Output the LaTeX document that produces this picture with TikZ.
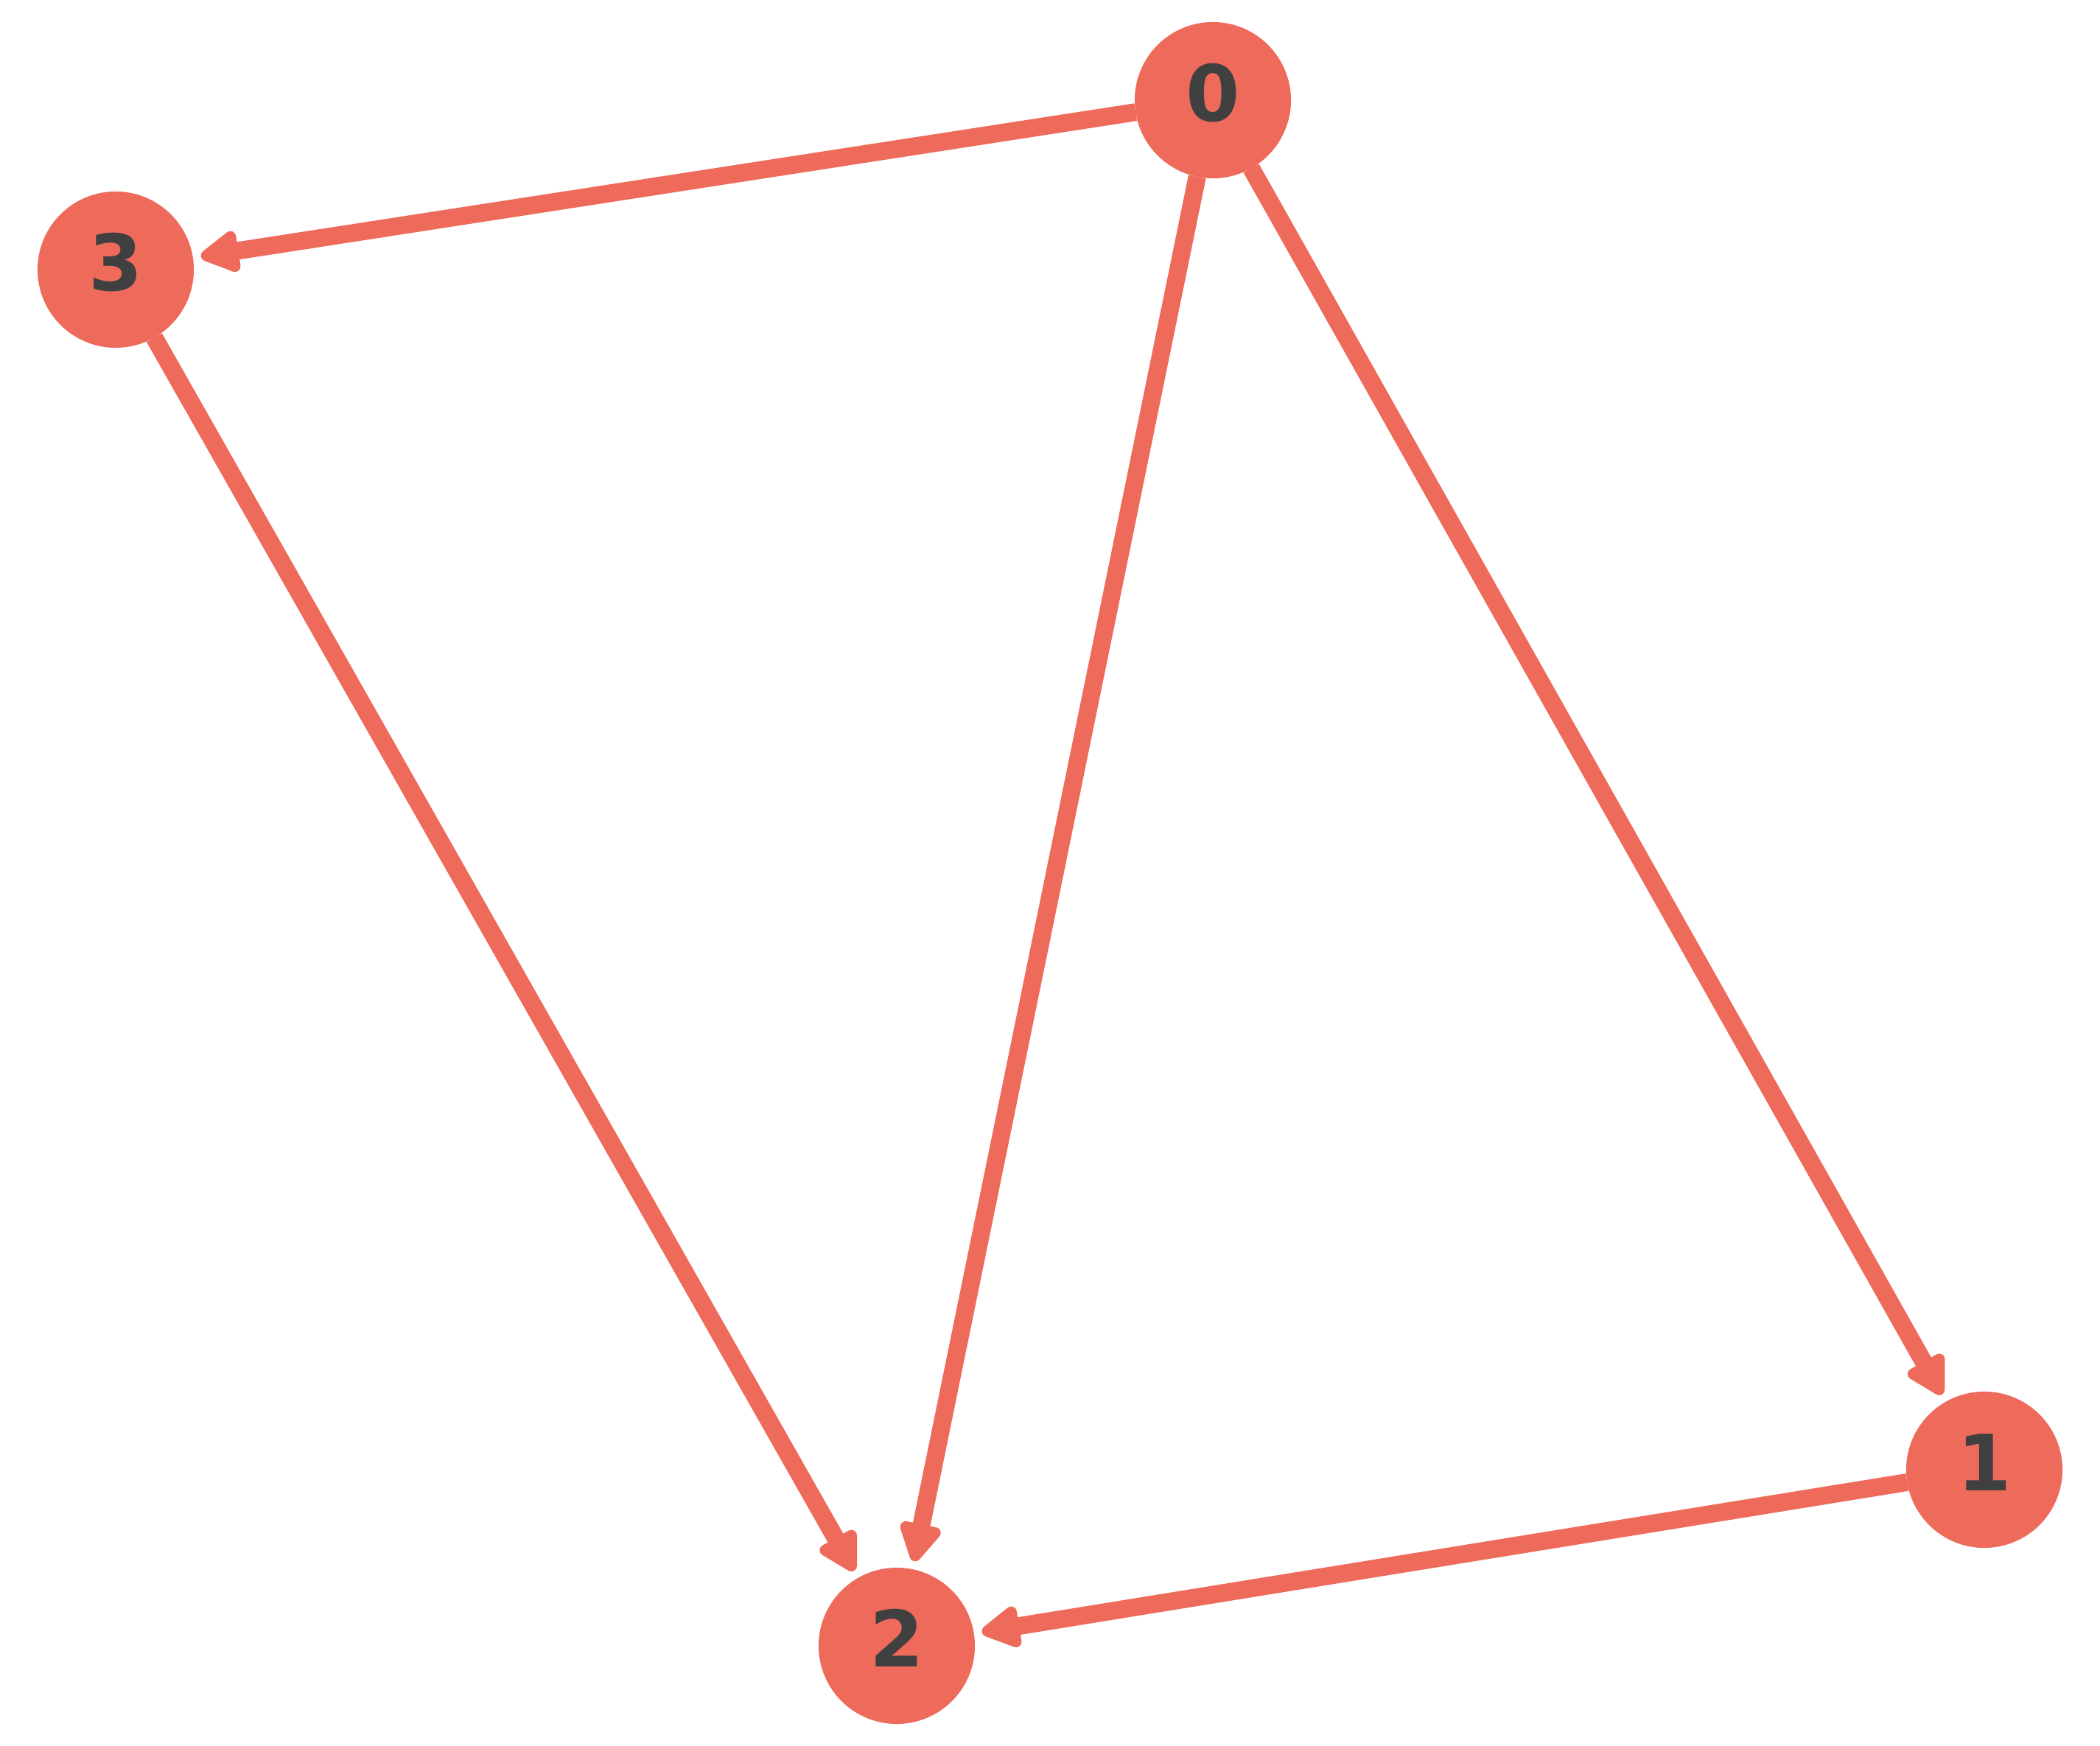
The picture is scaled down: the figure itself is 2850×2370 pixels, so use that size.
\documentclass[tikz,border=0pt]{standalone}
\usepackage{fontspec}
\setmainfont{DejaVu Sans}
\usetikzlibrary{arrows.meta}
\definecolor{vtxred}{HTML}{EE6A5B}
\definecolor{lblgray}{HTML}{404040}

\begin{document}
\begin{tikzpicture}[x=0.01cm, y=-0.01cm,
	vertex/.style={circle, fill=vtxred, minimum size=2.12cm, inner sep=0pt, outer sep=0pt,
		text=lblgray, font=\fontsize{30}{30}\selectfont\bfseries, text height=0.57cm, text depth=0pt},
	arc/.style={draw=vtxred, line width=0.24cm, -{Triangle[round, length=0.6cm, width=0.62cm]},
		shorten >=0.11cm}]
	\useasboundingbox (0,0) rectangle (2850,2370);
	\node[vertex] (v0) at (1646,136) {0};
	\node[vertex] (v1) at (2693,1995) {1};
	\node[vertex] (v2) at (1217,2234) {2};
	\node[vertex] (v3) at (157,366) {3};
	\draw[arc] (v0) -- (v3);
	\draw[arc] (v0) -- (v2);
	\draw[arc] (v0) -- (v1);
	\draw[arc] (v3) -- (v2);
	\draw[arc] (v1) -- (v2);
\end{tikzpicture}
\end{document}
